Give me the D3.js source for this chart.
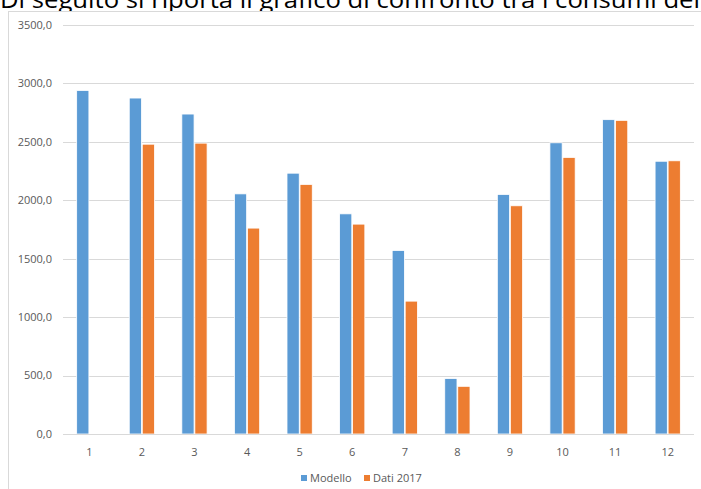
<!DOCTYPE html>
<html>
<head>
<meta charset="utf-8">
<script src="https://cdn.jsdelivr.net/npm/d3@7"></script>
<style>
  body { margin: 0; background: #fff; }
  svg { display: block; font-family: "Open Sans", "Liberation Sans", sans-serif; }
</style>
</head>
<body>
<div id="chart"></div>
<script>
// Data
const months = ["1", "2", "3", "4", "5", "6", "7", "8", "9", "10", "11", "12"];
const modello = [2940, 2875, 2738, 2055, 2232, 1884, 1570, 475, 2050, 2492, 2690, 2334];
const dati2017 = [null, 2480, 2489, 1762, 2136, 1796, 1137, 408, 1953, 2367, 2684, 2338];
const yTicks = [0, 500, 1000, 1500, 2000, 2500, 3000, 3500];
const seriesNames = ["Modello", "Dati 2017"];
const colors = ["#5b9bd5", "#ed7d31"];

const width = 701;
const height = 489;
const plot = { left: 63, right: 694, top: 25, bottom: 434 };

const svg = d3.select("#chart")
    .append("svg")
    .attr("width", width)
    .attr("height", height);

// text of the document above the chart (cut off at the top, as in the source)
svg.append("text")
    .attr("x", 0)
    .attr("y", 8)
    .attr("font-family", "Open Sans, sans-serif")
    .attr("font-size", "24px")
    .attr("fill", "#000")
    .attr("textLength", 700)
    .attr("lengthAdjust", "spacingAndGlyphs")
    .text("Di seguito si riporta il grafico di confronto tra i consumi del");

// chart frame
svg.append("rect")
    .attr("x", 8.5)
    .attr("y", 11.5)
    .attr("width", 720)
    .attr("height", 500)
    .attr("fill", "#fff")
    .attr("stroke", "#d9d9d9");

// Scales
const x = d3.scaleBand()
    .domain(months)
    .range([plot.left, plot.right])
    .paddingInner(0.49)
    .paddingOuter(0.245);

const xSub = d3.scaleBand()
    .domain(seriesNames)
    .range([0, x.bandwidth()])
    .padding(0.06);

const y = d3.scaleLinear()
    .domain([0, 3500])
    .range([plot.bottom, plot.top]);

const itFormat = d3.formatLocale({ decimal: ",", thousands: "", grouping: [3], currency: ["€", ""] }).format(".1f");

// Gridlines + y labels
const gGrid = svg.append("g").attr("class", "grid");
gGrid.selectAll("line")
    .data(yTicks)
    .join("line")
    .attr("x1", plot.left)
    .attr("x2", plot.right)
    .attr("y1", d => Math.round(y(d)) + 0.5)
    .attr("y2", d => Math.round(y(d)) + 0.5)
    .attr("stroke", "#d9d9d9")
    .attr("stroke-width", 1);

svg.append("g").attr("class", "axis-y")
    .selectAll("text")
    .data(yTicks)
    .join("text")
    .attr("x", 52)
    .attr("y", d => y(d))
    .attr("dy", "0.35em")
    .attr("text-anchor", "end")
    .attr("font-size", "11px")
    .attr("fill", "#595959")
    .text(d => itFormat(d));

// Bars
const rows = months.map((m, i) => ({ month: m, values: [modello[i], dati2017[i]] }));

const gBars = svg.append("g").attr("class", "bars");
gBars.selectAll("g")
    .data(rows)
    .join("g")
    .attr("transform", d => `translate(${x(d.month)},0)`)
    .selectAll("rect")
    .data(d => d.values.map((v, k) => ({ name: seriesNames[k], value: v, k })).filter(d => d.value != null))
    .join("rect")
    .attr("x", d => xSub(d.name))
    .attr("width", xSub.bandwidth())
    .attr("y", d => y(d.value))
    .attr("height", d => y(0) - y(d.value))
    .attr("fill", d => colors[d.k])
    .attr("stroke", "#fff")
    .attr("stroke-width", 0.8);

// x axis line redrawn over the bars
svg.append("line")
    .attr("x1", plot.left)
    .attr("x2", plot.right)
    .attr("y1", Math.round(y(0)) + 0.5)
    .attr("y2", Math.round(y(0)) + 0.5)
    .attr("stroke", "#d9d9d9");

// x labels
svg.append("g").attr("class", "axis-x")
    .selectAll("text")
    .data(months)
    .join("text")
    .attr("x", d => x(d) + x.bandwidth() / 2)
    .attr("y", 452)
    .attr("dy", "0.35em")
    .attr("text-anchor", "middle")
    .attr("font-size", "11px")
    .attr("fill", "#595959")
    .text(d => d);

// Legend
const legendX = [301, 364];
const gLegend = svg.append("g").attr("class", "legend");
const items = gLegend.selectAll("g")
    .data(seriesNames)
    .join("g")
    .attr("transform", (d, i) => `translate(${legendX[i]}, 478)`);
items.append("rect")
    .attr("x", 0)
    .attr("y", -3)
    .attr("width", 6)
    .attr("height", 6)
    .attr("fill", (d, i) => colors[i]);
items.append("text")
    .attr("x", 9)
    .attr("y", 0)
    .attr("dy", "0.35em")
    .attr("font-size", "11px")
    .attr("fill", "#595959")
    .text(d => d);
</script>
</body>
</html>
